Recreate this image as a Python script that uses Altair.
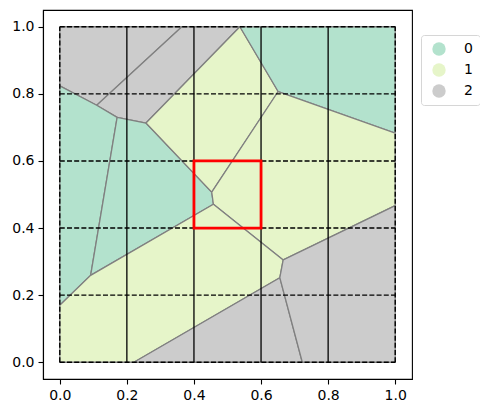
import altair as alt
import pandas as pd

# Voronoi-like cells clipped to the unit square
cell_class = ["2", "2", "0", "0", "1", "0", "1", "1", "2", "2"]
cell_x = [
    [0.0, 0.364, 0.110, 0.0],
    [0.364, 0.537, 0.257, 0.171, 0.110],
    [0.0, 0.110, 0.171, 0.092, 0.0],
    [0.171, 0.257, 0.453, 0.458, 0.092],
    [0.537, 0.651, 0.453, 0.257],
    [0.537, 1.0, 1.0, 0.651],
    [0.651, 1.0, 1.0, 0.666, 0.458, 0.453],
    [0.0, 0.092, 0.458, 0.666, 0.656, 0.221, 0.0],
    [0.221, 0.656, 0.723],
    [0.723, 0.656, 0.666, 1.0, 1.0],
]
cell_y = [
    [1.0, 1.0, 0.766, 0.824],
    [1.0, 1.0, 0.713, 0.730, 0.766],
    [0.824, 0.766, 0.730, 0.259, 0.170],
    [0.730, 0.713, 0.507, 0.471, 0.259],
    [1.0, 0.807, 0.507, 0.713],
    [1.0, 1.0, 0.683, 0.807],
    [0.807, 0.683, 0.467, 0.305, 0.471, 0.507],
    [0.170, 0.259, 0.471, 0.305, 0.252, 0.0, 0.0],
    [0.0, 0.252, 0.0],
    [0.0, 0.252, 0.305, 0.467, 0.0],
]
class_labels = ["0", "1", "2"]
class_colors = ["#b3e2cd", "#e6f5c9", "#cccccc"]
grid_ticks = [0.0, 0.2, 0.4, 0.6, 0.8, 1.0]
box_lo, box_hi = 0.4, 0.6

rows = []
for ci, (cls, xs, ys) in enumerate(zip(cell_class, cell_x, cell_y)):
    xs2 = xs + [xs[0]]
    ys2 = ys + [ys[0]]
    for k, (xv, yv) in enumerate(zip(xs2, ys2)):
        rows.append({"cell": ci, "idx": k, "x": xv, "y": yv, "cls": cls})
poly_df = pd.DataFrame(rows)

xscale = alt.Scale(domain=[-0.05, 1.05], nice=False, zero=False)
yscale = alt.Scale(domain=[-0.05, 1.05], nice=False, zero=False)
xaxis = alt.Axis(values=grid_ticks, format=".1f", title=None, grid=False)
yaxis = alt.Axis(values=grid_ticks, format=".1f", title=None, grid=False)

polys = alt.Chart(poly_df).mark_line(
    stroke="#808080", strokeWidth=1.3, strokeJoin="miter"
).encode(
    x=alt.X("x:Q", scale=xscale, axis=xaxis),
    y=alt.Y("y:Q", scale=yscale, axis=yaxis),
    fill=alt.Fill(
        "cls:N",
        scale=alt.Scale(domain=class_labels, range=class_colors),
        legend=alt.Legend(
            title=None,
            orient="none",
            legendX=378,
            legendY=25,
            symbolType="circle",
            symbolSize=180,
            symbolStrokeWidth=0,
            symbolOpacity=1,
            labelFontSize=14,
            labelFont="DejaVu Sans",
            labelColor="black",
            padding=7,
            rowPadding=7,
            labelOffset=18,
            symbolOffset=4,
            strokeColor="#d6d6d6",
            cornerRadius=3,
            fillColor="white",
        ),
    ),
    detail="cell:N",
    order="idx:Q",
)

tick_df = pd.DataFrame({"t": grid_ticks, "lo": [0.0] * 6, "hi": [1.0] * 6})
inner_df = tick_df.iloc[1:-1]
outer_df = tick_df.iloc[[0, 5]]

hlines = alt.Chart(tick_df).mark_rule(
    color="black", strokeWidth=1.4, strokeDash=[5, 2.2]
).encode(y="t:Q", x="lo:Q", x2="hi:Q")

vouter = alt.Chart(outer_df).mark_rule(
    color="black", strokeWidth=1.4, strokeDash=[5, 2.2]
).encode(x="t:Q", y="lo:Q", y2="hi:Q")

vinner = alt.Chart(inner_df).mark_rule(
    color="black", strokeWidth=1.3
).encode(x="t:Q", y="lo:Q", y2="hi:Q")

box_df = pd.DataFrame({"x": [box_lo], "x2": [box_hi], "y": [box_lo], "y2": [box_hi]})
box = alt.Chart(box_df).mark_rect(
    fill="transparent", stroke="red", strokeWidth=2.8
).encode(x="x:Q", x2="x2:Q", y="y:Q", y2="y2:Q")

chart = alt.layer(polys, hlines, vouter, vinner, box).properties(
    width=369,
    height=369,
    autosize=alt.AutoSizeParams(type="none"),
    padding={"left": 35, "top": 2, "right": 68, "bottom": 26},
).configure_view(
    stroke="black", strokeWidth=1.1
).configure_axis(
    labelFont="DejaVu Sans",
    labelFontSize=14,
    labelColor="black",
    tickColor="black",
    tickSize=5,
    tickWidth=1.1,
    domainColor="black",
    domainWidth=1.1,
    labelPadding=4,
)

chart.save("out.html", embed_options={"renderer": "svg", "actions": False})
